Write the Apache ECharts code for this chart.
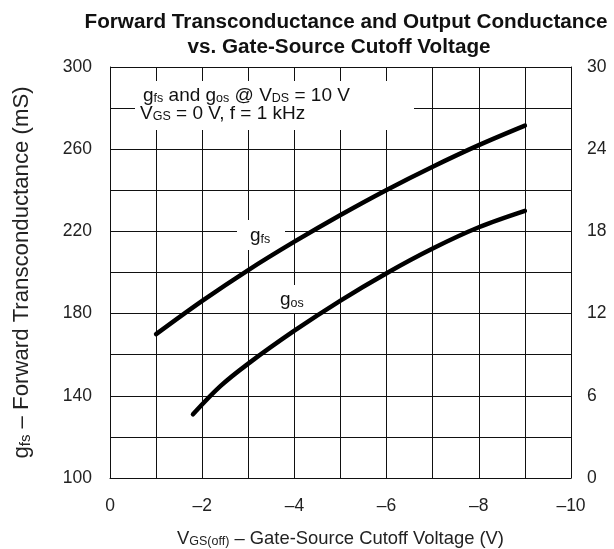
<!DOCTYPE html>
<html>
<head>
<meta charset="utf-8">
<script src="https://cdn.jsdelivr.net/npm/echarts@6/dist/echarts.min.js"></script>
<style>
html,body{margin:0;padding:0;background:#fff;}
#chart{width:614px;height:549px;}
</style>
</head>
<body>
<div id="chart"></div>
<script>
// ---- data ----
const gfsVgs = [-1, -2, -3, -4, -5, -6, -7, -8, -9];
const gfsValues = [170, 186.2, 201.2, 215, 228, 240.2, 251.5, 262, 271.5];   // mS, left axis
const gosVgs = [-1.8, -2.4, -3, -4, -5, -6, -7, -8, -9];
const gosValues = [4.65, 6.72, 8.35, 10.75, 12.95, 14.95, 16.75, 18.3, 19.5]; // right axis
const xTickLabels = ['0', '–2', '–4', '–6', '–8', '–10'];
const xTickValues = [0, -2, -4, -6, -8, -10];
const yLeftTickLabels = ['100', '140', '180', '220', '260', '300'];
const yRightTickLabels = ['0', '6', '12', '18', '24', '30'];

const FONT = 'Liberation Sans, Arial, sans-serif';
const chart = echarts.init(document.getElementById('chart'), null, {renderer: 'canvas'});

function pairs(xs, ys) { return xs.map((x, i) => [x, ys[i]]); }

const subStyle = {fontSize: 12.5, lineHeight: 13, verticalAlign: 'bottom', fontFamily: FONT, fill: '#111', color: '#111'};
const gridColor = '#111';

const option = {
  animation: false,
  backgroundColor: '#fff',
  grid: {left: 110, right: 43, top: 67, bottom: 71, containLabel: false, outerBoundsMode: 'none'},
  xAxis: {
    type: 'value', min: -10, max: 0, interval: 1, inverse: true,
    axisLine: {show: true, lineStyle: {color: gridColor, width: 1}},
    axisTick: {show: false},
    splitLine: {show: true, lineStyle: {color: gridColor, width: 1}},
    axisLabel: {
      margin: 19, color: '#222', fontSize: 17.5, fontFamily: FONT,
      formatter: v => { const i = xTickValues.indexOf(v); return i >= 0 ? xTickLabels[i] : ''; }
    },
    name: 'V{s|GS(off)} – Gate-Source Cutoff Voltage (V)',
    nameLocation: 'middle', nameGap: 52,
    nameTextStyle: {color: '#222', fontSize: 18.4, fontFamily: FONT,
      rich: {s: {fontSize: 12.5, lineHeight: 12, verticalAlign: 'bottom', fontFamily: FONT, color: '#222'}}}
  },
  yAxis: [{
    type: 'value', min: 100, max: 300, interval: 20,
    axisLine: {show: true, lineStyle: {color: gridColor, width: 1}},
    axisTick: {show: false},
    splitLine: {show: true, lineStyle: {color: gridColor, width: 1}},
    axisLabel: {
      margin: 18, color: '#222', fontSize: 17.5, fontFamily: FONT,
      formatter: v => { const i = yLeftTickLabels.indexOf(String(v)); return i >= 0 ? yLeftTickLabels[i] : ''; }
    },
    name: 'g{s|fs} – Forward Transconductance (mS)',
    nameLocation: 'middle', nameGap: 77, nameRotate: 90,
    nameTextStyle: {color: '#222', fontSize: 22.2, fontFamily: FONT,
      rich: {s: {fontSize: 15, lineHeight: 14, verticalAlign: 'bottom', fontFamily: FONT, color: '#222'}}}
  }, {
    type: 'value', min: 0, max: 30, interval: 3, position: 'right',
    axisLine: {show: true, lineStyle: {color: gridColor, width: 1}},
    axisTick: {show: false},
    splitLine: {show: false},
    axisLabel: {
      margin: 16, color: '#222', fontSize: 17.5, fontFamily: FONT,
      formatter: v => { const i = yRightTickLabels.indexOf(String(v)); return i >= 0 ? yRightTickLabels[i] : ''; }
    }
  }],
  series: [{
    name: 'gfs', type: 'line', yAxisIndex: 0, z: 5,
    data: pairs(gfsVgs, gfsValues), smooth: 0.35, showSymbol: false, symbol: 'none',
    lineStyle: {color: '#000', width: 4.5, cap: 'round'}
  }, {
    name: 'gos', type: 'line', yAxisIndex: 1, z: 5,
    data: pairs(gosVgs, gosValues), smooth: 0.35, showSymbol: false, symbol: 'none',
    lineStyle: {color: '#000', width: 4.5, cap: 'round'}
  }],
  graphic: [
    {type: 'text', x: 346, y: 22.5, z: 10,
      style: {text: 'Forward Transconductance and Output Conductance', font: 'bold 20.7px ' + FONT,
        fill: '#111', textAlign: 'center', textVerticalAlign: 'middle'}},
    {type: 'text', x: 339, y: 47.5, z: 10,
      style: {text: 'vs. Gate-Source Cutoff Voltage', font: 'bold 20.7px ' + FONT,
        fill: '#111', textAlign: 'center', textVerticalAlign: 'middle'}},
    // white boxes that interrupt the grid behind labels
    {type: 'rect', z: 1, shape: {x: 135, y: 81, width: 279, height: 49}, style: {fill: '#fff'}},
    {type: 'rect', z: 1, shape: {x: 237, y: 220, width: 48, height: 30}, style: {fill: '#fff'}},
    {type: 'rect', z: 1, shape: {x: 268, y: 285, width: 47, height: 28}, style: {fill: '#fff'}},
    {type: 'text', x: 143, y: 85.5, z: 10,
      style: {text: 'g{s|fs} and g{s|os} @ V{s|DS} = 10 V', fontSize: 19, fontFamily: FONT, lineHeight: 20,
        fill: '#111', textAlign: 'left', textVerticalAlign: 'top', rich: {s: subStyle}}},
    {type: 'text', x: 140, y: 103.5, z: 10,
      style: {text: 'V{s|GS} = 0 V, f = 1 kHz', fontSize: 19, fontFamily: FONT, lineHeight: 20,
        fill: '#111', textAlign: 'left', textVerticalAlign: 'top', rich: {s: subStyle}}},
    {type: 'text', x: 250, y: 226, z: 10,
      style: {text: 'g{s|fs}', fontSize: 19, fontFamily: FONT, lineHeight: 20,
        fill: '#111', textAlign: 'left', textVerticalAlign: 'top', rich: {s: subStyle}}},
    {type: 'text', x: 280, y: 290, z: 10,
      style: {text: 'g{s|os}', fontSize: 19, fontFamily: FONT, lineHeight: 20,
        fill: '#111', textAlign: 'left', textVerticalAlign: 'top', rich: {s: subStyle}}}
  ]
};
chart.setOption(option);
</script>
</body>
</html>
